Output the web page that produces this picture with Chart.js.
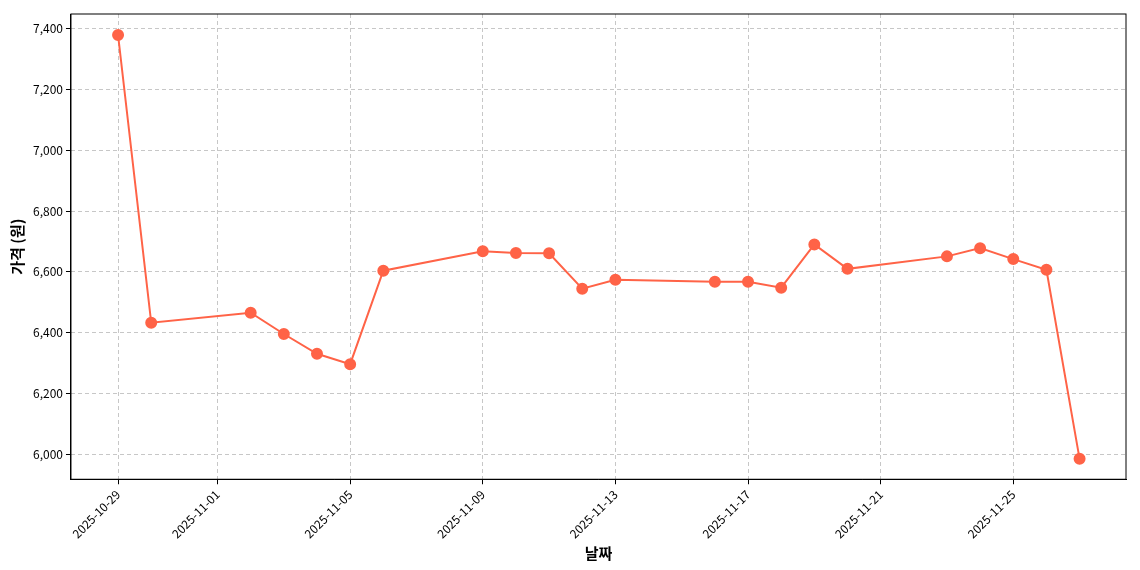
<!DOCTYPE html>
<html>
<head>
<meta charset="utf-8">
<script src="https://cdn.jsdelivr.net/npm/chart.js@4/dist/chart.umd.min.js"></script>
<style>
  html, body { margin: 0; padding: 0; background: #fff; }
</style>
</head>
<body>
<canvas id="priceChart" width="1140" height="570"></canvas>
<script>
const dates = ['2025-10-29', '2025-10-30', '2025-11-02', '2025-11-03', '2025-11-04', '2025-11-05',
  '2025-11-06', '2025-11-09', '2025-11-10', '2025-11-11', '2025-11-12', '2025-11-13',
  '2025-11-16', '2025-11-17', '2025-11-18', '2025-11-19', '2025-11-20', '2025-11-23',
  '2025-11-24', '2025-11-25', '2025-11-26', '2025-11-27'];
const prices = [7378, 6433, 6466, 6396, 6331, 6297, 6604, 6668, 6662, 6661, 6545, 6574,
  6568, 6568, 6548, 6690, 6610, 6651, 6678, 6642, 6607, 5986];
const tickDates = ['2025-10-29', '2025-11-01', '2025-11-05', '2025-11-09', '2025-11-13',
  '2025-11-17', '2025-11-21', '2025-11-25'];
const yTicks = [6000, 6200, 6400, 6600, 6800, 7000, 7200, 7400];

const DAY = 86400000;
const base = Date.parse(dates[0]);
const dayOf = d => Math.round((Date.parse(d) - base) / DAY);
const dateOf = n => new Date(base + n * DAY).toISOString().slice(0, 10);

const font = "'Noto Sans CJK KR', 'DejaVu Sans', sans-serif";

const frame = {
  id: 'frame',
  afterDraw(chart) {
    const a = chart.chartArea, ctx = chart.ctx;
    ctx.save();
    ctx.strokeStyle = '#000';
    ctx.lineWidth = 1;
    ctx.setLineDash([]);
    ctx.strokeRect(a.left, a.top, a.right - a.left, a.bottom - a.top);
    ctx.restore();
  }
};

new Chart(document.getElementById('priceChart'), {
  type: 'line',
  data: {
    datasets: [{
      data: dates.map((d, i) => ({ x: dayOf(d), y: prices[i] })),
      borderColor: '#ff6347',
      backgroundColor: '#ff6347',
      borderWidth: 2,
      pointRadius: 5,
      pointHoverRadius: 5,
      tension: 0
    }]
  },
  options: {
    responsive: false,
    animation: false,
    devicePixelRatio: 1,
    layout: { padding: { top: 14, right: 14, left: 4, bottom: 4 } },
    plugins: { legend: { display: false }, tooltip: { enabled: false } },
    scales: {
      x: {
        type: 'linear',
        min: -1.42, max: 30.4,
        afterBuildTicks: axis => { axis.ticks = tickDates.map(d => ({ value: dayOf(d) })); },
        ticks: {
          callback: v => dateOf(v),
          maxRotation: 45, minRotation: 45,
          color: '#000', font: { family: font, size: 12 }
        },
        grid: { color: 'rgba(0,0,0,0.22)', tickColor: '#000', tickLength: 5 },
        border: { color: '#000', dash: [4, 3] },
        title: { display: true, text: '날짜', color: '#000', font: { family: font, size: 15, weight: 'bold' }, padding: { top: 0 } }
      },
      y: {
        min: 5919, max: 7447,
        afterBuildTicks: axis => { axis.ticks = yTicks.map(v => ({ value: v })); },
        ticks: { color: '#000', font: { family: font, size: 12 } },
        grid: { color: 'rgba(0,0,0,0.22)', tickColor: '#000', tickLength: 5 },
        border: { color: '#000', dash: [4, 3] },
        title: { display: true, text: '가격 (원)', color: '#000', font: { family: font, size: 15, weight: 'bold' } }
      }
    }
  },
  plugins: [frame]
});
</script>
</body>
</html>
